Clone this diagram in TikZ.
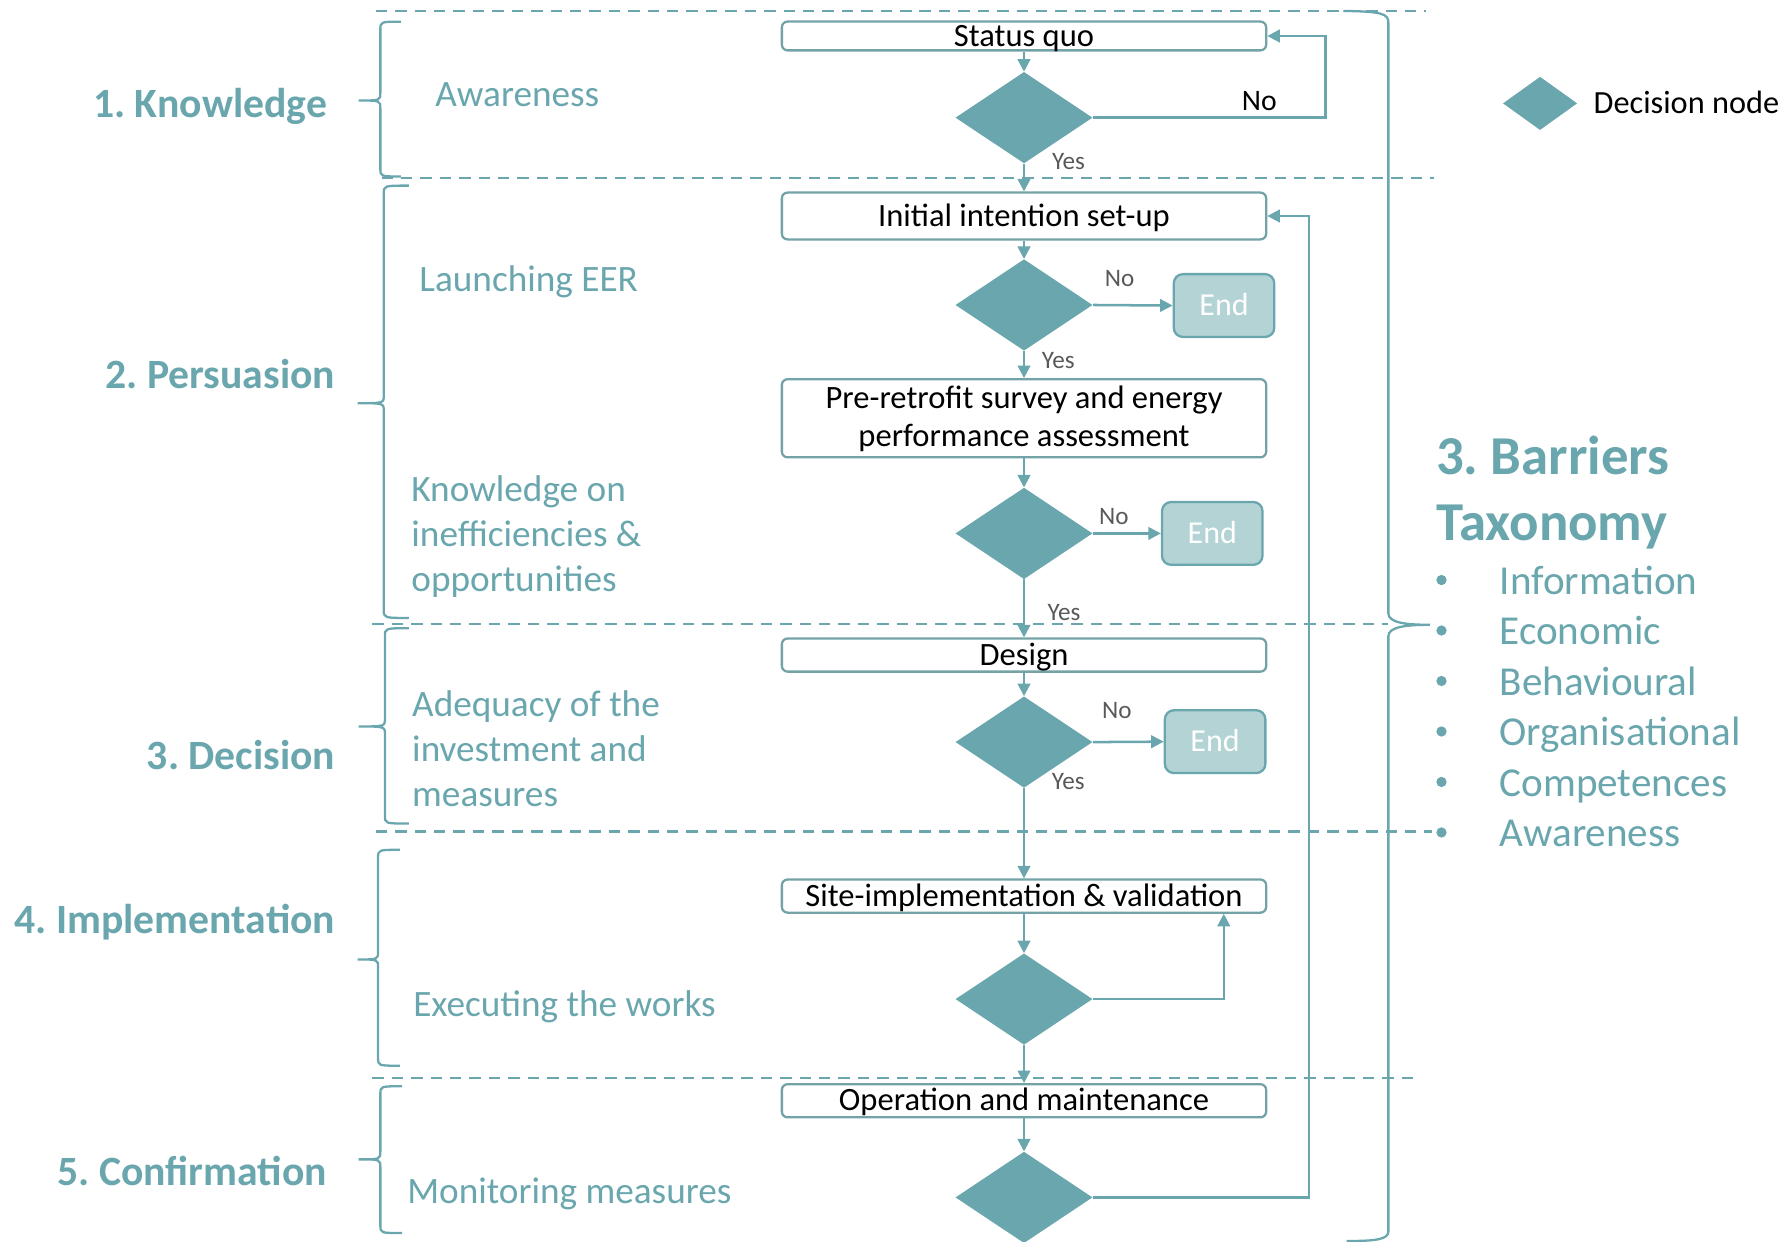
\documentclass[tikz,border=0pt]{standalone}
\usepackage{fontspec}
\setmainfont{Carlito}
\usetikzlibrary{shapes.geometric,arrows.meta}
\definecolor{tealmain}{HTML}{6AA6AD}
\definecolor{boxedge}{HTML}{74A3A7}
\definecolor{endfill}{HTML}{B3D3D5}
\definecolor{labelgray}{HTML}{595959}
\frenchspacing
\newcommand{\fsz}[2]{\fontsize{#1}{#2}\selectfont}
% curly brace opening to the right: line x, top y, tip y, bottom y, tip x, hook x
\newcommand{\phasebrace}[6]{%
  \draw[brace] (#6,#2) .. controls (#1,#2) .. (#1,#2+7) -- (#1,#3-7)
    .. controls (#1,#3) .. (#5,#3) .. controls (#1,#3) .. (#1,#3+7)
    -- (#1,#4-7) .. controls (#1,#4) .. (#6,#4);}

\begin{document}
\begin{tikzpicture}[x=1pt,y=-1pt,
  stepbox/.style={draw=boxedge, line width=2pt, rounded corners=5pt, fill=white,
    minimum width=424pt, inner sep=0pt, font=\fsz{28.5}{33}, text=black,
    text height=22pt, text depth=4.4pt},
  decision/.style={diamond, fill=tealmain, draw=none, inner sep=0pt,
    minimum width=120pt, minimum height=80pt},
  endbox/.style={draw=tealmain, line width=2pt, rounded corners=8pt, fill=endfill,
    minimum width=88pt, minimum height=55pt, inner sep=0pt, font=\fsz{28}{32},
    text=white, text height=22pt, text depth=4pt},
  conn/.style={draw=tealmain, line width=2.2pt, -{Triangle[length=11pt,width=11pt]}},
  divider/.style={draw=tealmain, line width=2pt, dash pattern=on 10pt off 7pt},
  brace/.style={draw=tealmain, line width=2pt},
  phase/.style={font=\bfseries\fsz{36.5}{40}, text=tealmain, anchor=base east, inner sep=0pt},
  topic/.style={font=\fsz{32.6}{39.5}, text=tealmain, anchor=base west, inner sep=0pt, align=left},
  answer/.style={font=\fsz{22}{24}, text=labelgray, anchor=base west, inner sep=0pt},
  barrier/.style={font=\fsz{36}{40}, text=tealmain, anchor=base west, inner sep=0pt},
]
\useasboundingbox (0,0) rectangle (1568,1087);

% phase separators
\draw[divider] (329,9.7) -- (1248,9.7);
\draw[divider] (334,156) -- (1255,156);
\draw[divider] (326,546) -- (1215,546);
\draw[divider] (329,728) -- (1254,728);
\draw[divider] (326,944) -- (1240,944);

% phase braces
\phasebrace{333}{19}{88}{154.5}{314}{351}
\phasebrace{336}{162.5}{353}{541}{313}{358}
\phasebrace{337}{550}{636}{721}{314}{358}
\phasebrace{331}{744}{840}{933}{313}{350}
\phasebrace{333}{951}{1015}{1079.5}{314}{352}

% barrier brace on the right
\draw[brace] (1176,9.6) .. controls (1210,10) and (1215.5,12) .. (1215.5,20)
  -- (1215.5,537) .. controls (1215.5,545) and (1230,547) .. (1252,547)
  .. controls (1230,547) and (1215.5,549) .. (1215.5,557)
  -- (1215.5,1078) .. controls (1215.5,1085) and (1205,1086.5) .. (1179,1086.5);

% phase names
\node[phase] (ph1) at (286.5,102.7) {1. Knowledge};
\node[phase] (ph2) at (293.7,340.5) {2. Persuasion};
\node[phase] (ph3) at (293.7,674.1) {3. Decision};
\node[phase] (ph4) at (293.7,817.3) {4. Implementation};
\node[phase] (ph5) at (286.5,1037.9) {5. Confirmation};

% phase topics (multi-line ones are placed by their last baseline)
\node[topic] (t1) at (381,93.3) {Awareness};
\node[topic] (t2) at (367,255.1) {Launching EER};
\node[topic] (t3) at (360,518.2) {Knowledge on\\inefficiencies \&\\opportunities};
\node[topic] (t4) at (360.7,706.1) {Adequacy of the\\investment and\\measures};
\node[topic] (t5) at (361.6,890.2) {Executing the works};
\node[topic] (t6) at (356.4,1053.5) {Monitoring measures};

% process steps
\node[stepbox, minimum height=25pt, text depth=3.2pt] (sq) at (896.5,31.5) {Status quo};
\node[stepbox, minimum height=41pt] (init) at (896.5,189.1) {Initial intention set-up};
\node[stepbox, minimum height=68.4pt, align=center, text height=54pt, text depth=4.4pt]
  (pre) at (896.5,366.2) {Pre-retrofit survey and energy\\performance assessment};
\node[stepbox, minimum height=29pt] (des) at (896.5,573.5) {Design};
\node[stepbox, minimum height=29pt] (site) at (896.5,784.5) {Site-implementation \& validation};
\node[stepbox, minimum height=29pt] (op) at (896.5,963.7) {Operation and maintenance};

% decision nodes
\node[decision] (d1) at (896.5,103) {};
\node[decision] (d2) at (896.5,267) {};
\node[decision] (d3) at (896.5,467) {};
\node[decision] (d4) at (896.5,649.7) {};
\node[decision] (d5) at (896.5,874.7) {};
\node[decision] (d6) at (896.5,1048.3) {};

% exits
\node[endbox] (e1) at (1071.6,267.5) {End};
\node[endbox] (e2) at (1061.3,467) {End};
\node[endbox] (e3) at (1063.8,649.3) {End};

% main flow
\draw[conn] (sq) -- (d1);
\draw[conn] (d1) -- (init);
\draw[conn] (init) -- (d2);
\draw[conn] (d2) -- (pre);
\draw[conn] (pre) -- (d3);
\draw[conn] (d3) -- (des);
\draw[conn] (des) -- (d4);
\draw[conn] (d4) -- (site);
\draw[conn] (site) -- (d5);
\draw[conn] (d5) -- (op);
\draw[conn] (op) -- (d6);
\draw[conn] (d2.east) -- (e1.west);
\draw[conn] (d3.east) -- (e2.west);
\draw[conn] (d4.east) -- (e3.west);

% feedback loops
\coordinate (k1) at (1160.5,0);
\coordinate (k5) at (1071.4,0);
\coordinate (k6) at (1146,0);
\draw[conn] (d1.east) -- (d1.east -| k1) |- (sq.east);
\draw[conn] (d5.east) -| (site.south -| k5);
\draw[conn] (d6.east) -- (d6.east -| k6) |- (init.east);

% answers
\node[answer, text=black, font=\fsz{26}{30}] (no1) at (1087,96.9) {No};
\node[answer] (yes1) at (921,148) {Yes};
\node[answer] (no2) at (967,251) {No};
\node[answer] (yes2) at (912,323) {Yes};
\node[answer] (no3) at (962,459.6) {No};
\node[answer] (yes3) at (917,543.4) {Yes};
\node[answer] (no4) at (964.6,628.9) {No};
\node[answer] (yes4) at (920.8,691.6) {Yes};

% legend
\node[decision, minimum width=65pt, minimum height=46.6pt] (legd) at (1348.3,90.5) {};
\node[anchor=base west, inner sep=0pt, font=\fsz{28.3}{32}, text=black] (legt) at (1395,99.2) {Decision node};

% barrier taxonomy
\node[font=\bfseries\fsz{48}{58}, text=tealmain, anchor=base west, inner sep=0pt, align=left]
  (bt) at (1257,473.4) {3. Barriers\\Taxonomy};
\foreach \i/\w in {0/Information,1/Economic,2/Behavioural,3/Organisational,4/Competences,5/Awareness} {
  \fill[tealmain] (1262,520.3+44.2*\i-12.5) circle (4.5pt);
  \node[barrier] (b\i) at (1312.7,520.3+44.2*\i) {\w};
}
\end{tikzpicture}
\end{document}
